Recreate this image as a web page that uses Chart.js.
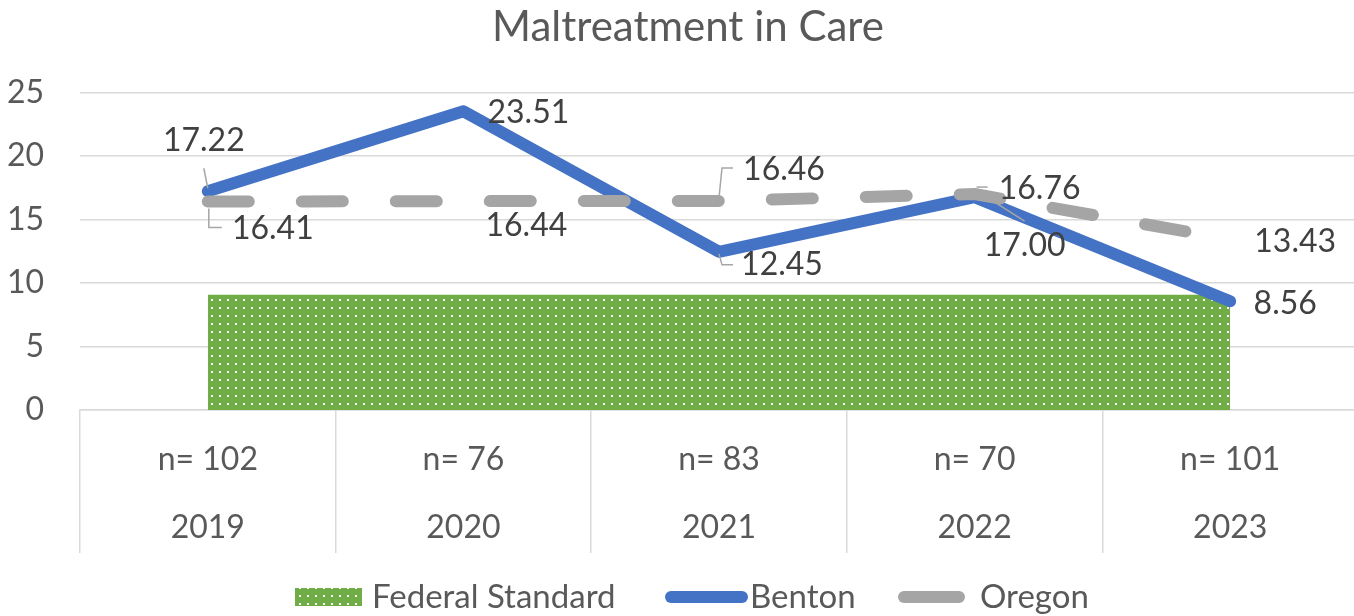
<!DOCTYPE html>
<html>
<head>
<meta charset="utf-8">
<script src="https://cdn.jsdelivr.net/npm/chart.js@4.4.1/dist/chart.umd.min.js"></script>
<style>
  html, body { margin: 0; padding: 0; background: #fff; overflow: hidden; }
  #wrap { width: 1376px; height: 616px; }
</style>
</head>
<body>
<div id="wrap"><canvas id="chart"></canvas></div>
<script>
// data
const years = ['2019', '2020', '2021', '2022', '2023'];
const sampleSizes = ['n= 102', 'n= 76', 'n= 83', 'n= 70', 'n= 101'];
const federalStandard = [9.07, 9.07, 9.07, 9.07, 9.07];
const benton = [17.22, 23.51, 12.45, 16.76, 8.56];
const oregon = [16.41, 16.44, 16.46, 17.00, 13.43];
const yTicks = [0, 5, 10, 15, 20, 25];

// label placement (offsets from each point, in px)
const bentonLabelOffsets = [[-4, -51], [65, 1], [63, 13], [65, -8], [55, 2]];
const oregonLabelOffsets = [[65, 27], [63, 25], [65, -31], [50, 52], [65, 2]];
const bentonLeaders = [[[0, -3], [-4, -23]], null, [[0, 2], [3, 13], [14, 13]], [[2, -10], [13, -10]], null];
const oregonLeaders = [[[1, 7], [1, 26], [14, 26]], null, [[0, -3], [3, -33], [14, -33]], [[20, 8], [50, 27]], null];

const FONT = 'Lato, "Open Sans", sans-serif';
const GREEN = '#70AD47';
const BLUE = '#4472C4';
const GRAY = '#A5A5A5';
const GRID = '#D9D9D9';

function dotPattern(ctx) {
    const tile = document.createElement('canvas');
    tile.width = 8;
    tile.height = 8;
    const g = tile.getContext('2d');
    g.fillStyle = GREEN;
    g.fillRect(0, 0, 8, 8);
    g.fillStyle = '#ffffff';
    g.fillRect(3, 3, 2, 2);
    return ctx.createPattern(tile, 'repeat');
}

const canvas = document.getElementById('chart');
const pattern = dotPattern(canvas.getContext('2d'));

const pointLabels = {
    id: 'pointLabels',
    afterDatasetsDraw(chart) {
        const ctx = chart.ctx;
        const sets = [
            [1, benton, bentonLabelOffsets, bentonLeaders],
            [2, oregon, oregonLabelOffsets, oregonLeaders],
        ];
        ctx.save();
        sets.forEach(([idx, values, offsets, leaders]) => {
            const meta = chart.getDatasetMeta(idx);
            meta.data.forEach((pt, i) => {
                const lead = leaders[i];
                if (lead) {
                    ctx.strokeStyle = '#A6A6A6';
                    ctx.lineWidth = 1.5;
                    ctx.beginPath();
                    lead.forEach(([dx, dy], k) => {
                        if (k === 0) ctx.moveTo(pt.x + dx, pt.y + dy);
                        else ctx.lineTo(pt.x + dx, pt.y + dy);
                    });
                    ctx.stroke();
                }
                const [ox, oy] = offsets[i];
                ctx.fillStyle = '#404040';
                ctx.font = '32px ' + FONT;
                ctx.textAlign = 'center';
                ctx.textBaseline = 'middle';
                ctx.fillText(values[i].toFixed(2), pt.x + ox, pt.y + oy);
            });
        });
        ctx.restore();
    },
};

const customLegend = {
    id: 'customLegend',
    afterDraw(chart) {
        const ctx = chart.ctx;
        const left = chart.width / 2 - 393;
        const y = 597;
        ctx.save();
        // Federal Standard swatch
        ctx.fillStyle = pattern;
        ctx.fillRect(left, y - 9, 67, 18);
        // Benton swatch
        ctx.lineCap = 'round';
        ctx.lineWidth = 12;
        ctx.strokeStyle = BLUE;
        ctx.beginPath();
        ctx.moveTo(left + 376, y);
        ctx.lineTo(left + 447, y);
        ctx.stroke();
        // Oregon swatch
        ctx.strokeStyle = GRAY;
        ctx.beginPath();
        ctx.moveTo(left + 609, y);
        ctx.lineTo(left + 664, y);
        ctx.stroke();
        ctx.fillStyle = '#595959';
        ctx.font = '33px ' + FONT;
        ctx.textAlign = 'left';
        ctx.textBaseline = 'middle';
        ctx.fillText('Federal Standard', left + 77, y);
        ctx.fillText('Benton', left + 455, y);
        ctx.fillText('Oregon', left + 685, y);
        ctx.restore();
    },
};

new Chart(canvas, {
    type: 'line',
    data: {
        labels: years.map((yr, i) => [sampleSizes[i], yr]),
        datasets: [
            {
                label: 'Federal Standard',
                data: federalStandard,
                backgroundColor: pattern,
                borderColor: 'rgba(0,0,0,0)',
                borderWidth: 0,
                pointRadius: 0,
                fill: 'origin',
                order: 3,
            },
            {
                label: 'Benton',
                data: benton,
                borderColor: BLUE,
                borderWidth: 12,
                borderCapStyle: 'round',
                borderJoinStyle: 'round',
                pointRadius: 0,
                fill: false,
                order: 2,
            },
            {
                label: 'Oregon',
                data: oregon,
                borderColor: GRAY,
                borderWidth: 12,
                borderDash: [41, 53],
                borderCapStyle: 'round',
                borderJoinStyle: 'round',
                pointRadius: 0,
                fill: false,
                order: 1,
            },
        ],
    },
    options: {
        responsive: true,
        maintainAspectRatio: false,
        animation: false,
        layout: {
            padding: { left: 0, right: 0, top: 0, bottom: 50 },
        },
        plugins: {
            legend: { display: false },
            tooltip: { enabled: false },
            title: {
                display: true,
                text: 'Maltreatment in Care',
                color: '#595959',
                font: { family: FONT, size: 42, weight: 'normal', lineHeight: 1.2 },
                padding: { top: 2, bottom: 40 },
            },
        },
        scales: {
            x: {
                offset: true,
                border: { display: true, color: GRID, width: 1.5 },
                grid: {
                    offset: true,
                    drawOnChartArea: false,
                    drawTicks: true,
                    tickLength: 143,
                    color: GRID,
                    lineWidth: 1.5,
                },
                ticks: {
                    color: '#595959',
                    font: { family: FONT, size: 32, lineHeight: 2.125 },
                    padding: -127,
                    autoSkip: false,
                    maxRotation: 0,
                },
                afterFit: (scale) => {
                    scale.height = 156;
                },
            },
            y: {
                min: yTicks[0],
                max: yTicks[yTicks.length - 1],
                border: { display: false },
                grid: { color: GRID, lineWidth: 1.5, drawTicks: false },
                ticks: {
                    color: '#595959',
                    font: { family: FONT, size: 32 },
                    padding: 36,
                },
                afterBuildTicks: (scale) => {
                    scale.ticks = yTicks.map((v) => ({ value: v }));
                },
                afterFit: (scale) => {
                    scale.width = 80;
                },
            },
            // empty spacer on the right so the plot runs just past the window edge
            spacer: {
                type: 'linear',
                position: 'right',
                display: true,
                border: { display: false },
                grid: { display: false, drawOnChartArea: false },
                ticks: { display: false },
                afterFit: (scale) => {
                    scale.width = 18;
                },
            },
        },
    },
    plugins: [pointLabels, customLegend],
});
</script>
</body>
</html>
